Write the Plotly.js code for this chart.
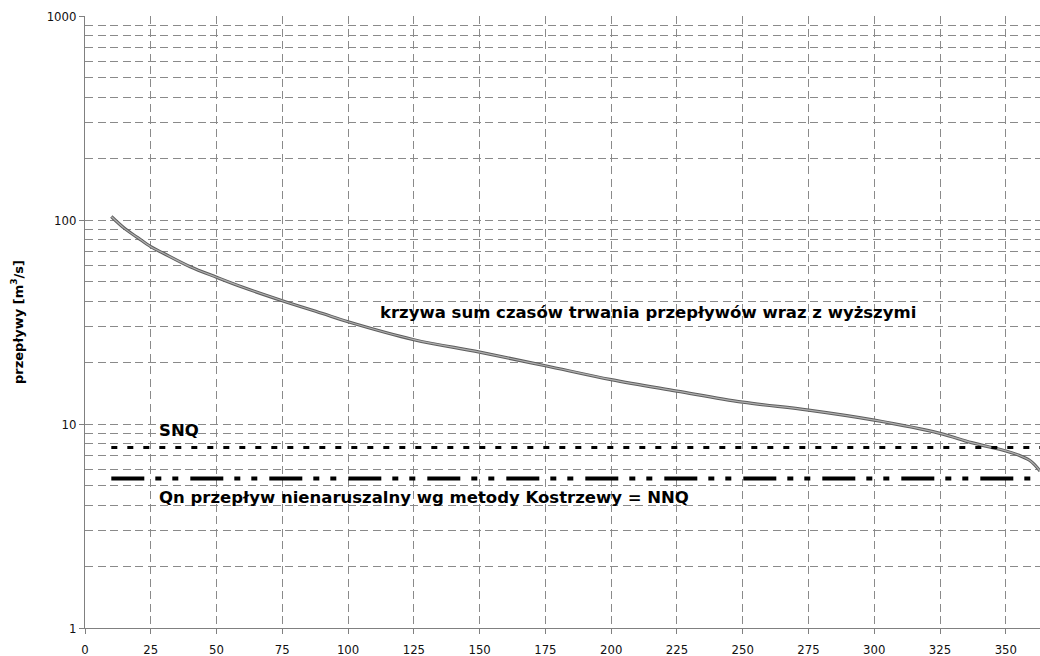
<!DOCTYPE html>
<html>
<head>
<meta charset="utf-8">
<script src="https://cdn.plot.ly/plotly-3.0.1.min.js"></script>
<style>html,body{margin:0;padding:0;background:#fff;}#chart{width:1040px;height:656px;}</style>
</head>
<body>
<div id="chart"></div>
<script>
// Duration curve (days vs flow m3/s)
var days = [10, 15, 20, 25, 30, 40, 50, 60, 75, 90, 100, 125, 150, 175, 200, 225, 250, 275, 300, 325, 337, 350, 355, 359, 361, 363];
var flows = [104, 91, 82, 74, 68.5, 59, 52.4, 46.8, 40.2, 34.9, 31.7, 25.9, 22.5, 19.3, 16.5, 14.5, 12.8, 11.7, 10.45, 9.0, 8.1, 7.38, 7.03, 6.64, 6.3, 5.88];
// Reference flows
var refX = [10, 365];
var snqValue = 7.67;
var nnqValue = 5.40;
var xTicks = [0, 25, 50, 75, 100, 125, 150, 175, 200, 225, 250, 275, 300, 325, 350];
var yTickVals = [1, 10, 100, 1000];
var yTickText = ['1', '10', '100', '1000'];
var yMinorVals = [2, 3, 4, 5, 6, 7, 8, 9, 20, 30, 40, 50, 60, 70, 80, 90, 200, 300, 400, 500, 600, 700, 800, 900];
var curveLabel = 'krzywa sum czasów trwania przepływów wraz z wyższymi';
var snqLabel = 'SNQ';
var nnqLabel = 'Qn przepływ nienaruszalny wg metody Kostrzewy = NNQ';
var yTitle = 'przepływy [m<sup>3</sup>/s]';

var FONT = '"DejaVu Sans Condensed", "DejaVu Sans", sans-serif';
var BFONT = '"DejaVu Sans", sans-serif';
var gridDash = '8px,4.5px';

var traces = [
  {x: days, y: flows, mode: 'lines', line: {color: '#5e5e5e', width: 3.2, shape: 'spline'}, hoverinfo: 'skip'},
  {x: days, y: flows, mode: 'lines', line: {color: '#b0b0b0', width: 1.2, shape: 'spline'}, hoverinfo: 'skip'},
  {x: refX, y: refX.map(function(){return snqValue;}), mode: 'lines', line: {color: '#000', width: 3, dash: '6px,10px'}},
  {x: refX, y: refX.map(function(){return nnqValue;}), mode: 'lines', line: {color: '#000', width: 4, dash: '33px,11px,6px,11px,6px,12px'}}
];

var layout = {
  width: 1040, height: 656,
  margin: {l: 85, r: 0, t: 16, b: 28, pad: 0},
  paper_bgcolor: '#fff', plot_bgcolor: '#fff',
  showlegend: false,
  font: {family: FONT, size: 13, color: '#111'},
  xaxis: {
    range: [0, 363], tickmode: 'array', tickvals: xTicks,
    showgrid: true, gridcolor: '#8a8a8a', gridwidth: 1, griddash: gridDash,
    showline: true, linecolor: '#808080', linewidth: 1,
    ticks: 'outside', ticklen: 5, tickcolor: '#808080',
    ticklabelstandoff: 4,
    zeroline: false, automargin: false,
    tickfont: {family: FONT, size: 13, color: '#111'}
  },
  yaxis: {
    type: 'log', range: [0, 3],
    tickmode: 'array', tickvals: yTickVals, ticktext: yTickText,
    showgrid: true, gridcolor: '#8a8a8a', gridwidth: 1, griddash: gridDash,
    minor: {tickmode: 'array', tickvals: yMinorVals, showgrid: true, gridcolor: '#8a8a8a', gridwidth: 1, griddash: gridDash, ticks: ''},
    showline: true, linecolor: '#808080', linewidth: 1,
    ticks: 'outside', ticklen: 5, tickcolor: '#808080',
    zeroline: false, automargin: false,
    tickfont: {family: FONT, size: 13, color: '#111'},
    title: {text: '<b>' + yTitle + '</b>', font: {family: BFONT, size: 13, color: '#000'}, standoff: 20}
  },
  annotations: [
    {x: 111.2, y: Math.log10(35.4), xref: 'x', yref: 'y', text: '<b>' + curveLabel + '</b>', showarrow: false, xanchor: 'left', yanchor: 'middle', font: {family: BFONT, size: 16.5, color: '#000'}},
    {x: 27.3, y: Math.log10(9.32), xref: 'x', yref: 'y', text: '<b>' + snqLabel + '</b>', showarrow: false, xanchor: 'left', yanchor: 'middle', font: {family: BFONT, size: 16.5, color: '#000'}},
    {x: 27.3, y: Math.log10(4.37), xref: 'x', yref: 'y', text: '<b>' + nnqLabel + '</b>', showarrow: false, xanchor: 'left', yanchor: 'middle', font: {family: BFONT, size: 16.5, color: '#000'}}
  ]
};

Plotly.newPlot('chart', traces, layout, {displayModeBar: false, staticPlot: true});
</script>
</body>
</html>
